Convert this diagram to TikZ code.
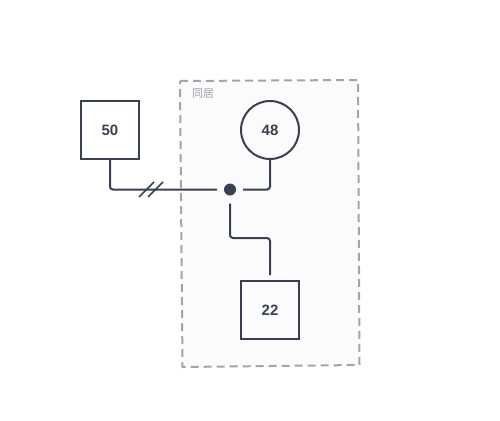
\documentclass[tikz,border=0pt]{standalone}
\usepackage{fontspec}
\setmainfont{Liberation Sans}
\newfontfamily\cjk{Noto Sans CJK SC}
\definecolor{ink}{HTML}{374151}
\definecolor{grp}{HTML}{A1A4AE}
\definecolor{grpfill}{HTML}{FBFBFB}
\definecolor{grptext}{HTML}{9CA3AF}
\begin{document}
\begin{tikzpicture}[x=1pt,y=-1pt,
  person/.style={draw=ink,line width=2pt,minimum size=58pt,inner sep=0pt,font=\bfseries\fontsize{15}{17}\selectfont,text=ink},
  male/.style={person,rectangle},
  female/.style={person,circle},
  union/.style={circle,fill=ink,minimum size=12pt,inner sep=0pt},
  rel/.style={draw=ink,line width=2pt,rounded corners=3pt},
  groupbox/.style={draw=grp,fill=grpfill,line width=2pt,dash pattern=on 8pt off 5pt},
  grouplabel/.style={text=grptext,font=\cjk\fontsize{11}{13}\selectfont,inner sep=0pt}]
\useasboundingbox (0,0) rectangle (500,420);
% cohabitation group
\path[groupbox] (180,81) -- (358,80) -- (359.5,365) -- (182.5,367) -- cycle;
\node[grouplabel,anchor=west] (glabel) at (192,94) {同居};
% persons
\node[male] (p50) at (110,130) {50};
\node[female] (p48) at (270,130) {48};
\node[male] (p22) at (270,310) {22};
\node[union] (u) at (230,189.5) {};
\coordinate (kidtop) at (270,275);
% marriage lines
\draw[rel,shorten >=7pt] (p50.south) |- (u.west);
\draw[rel,shorten >=7pt] (p48.south) |- (u.east);
% divorce marks
\draw[draw=ink,line width=1.6pt] (139,197) -- (154,182);
\draw[draw=ink,line width=1.6pt] (148,197) -- (163,182);
% child line
\draw[rel,shorten <=8pt] (u.south) -- (230,238) -- (270,238) -- (kidtop);
\end{tikzpicture}
\end{document}
